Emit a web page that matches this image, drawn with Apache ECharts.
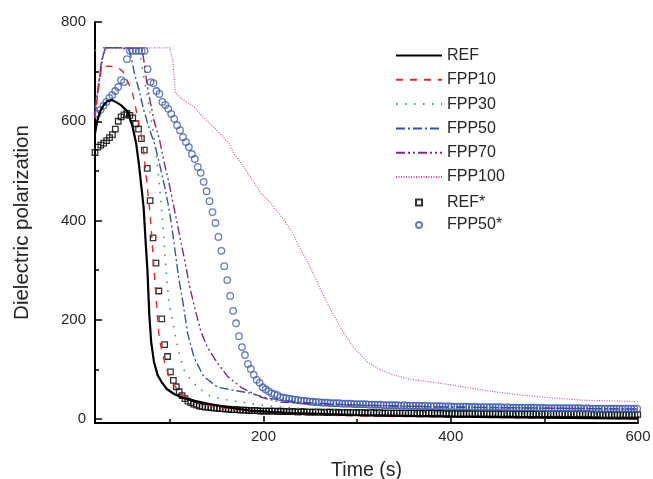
<!DOCTYPE html>
<html>
<head>
<meta charset="utf-8">
<title>Dielectric polarization</title>
<script src="https://cdn.jsdelivr.net/npm/echarts@6.0.0/dist/echarts.min.js"></script>
<style>
html, body { margin: 0; padding: 0; background: #fff; }
#chart { width: 653px; height: 479px; }
</style>
</head>
<body>
<div id="chart"></div>
<script>
// simulated curves: time (s) and dielectric polarization
var refTime = [20, 22, 25, 29, 33, 38, 43, 48, 55, 60, 64, 67, 70, 72, 74, 76, 78, 80, 83, 87, 91, 97, 105, 115, 125, 140, 160, 186, 230, 300, 400, 500, 600];
var refValues = [575, 598, 618, 632, 640, 643, 638, 632, 619, 590, 555, 512, 460, 425, 360, 300, 210, 155, 115, 88, 75, 60, 50, 42, 37, 31, 24, 17, 12, 8, 5, 3, 1];

var fpp10Time = [20, 22, 24, 26, 28, 35, 44, 50, 55, 60, 64, 68, 71, 73, 76, 79, 81.5, 83, 85, 88, 90, 94, 98, 104, 110, 120, 135, 150, 175, 200, 250, 300, 400, 500, 600];
var fpp10Values = [605, 640, 668, 700, 710, 711, 709, 700, 680, 658, 622, 585, 555, 520, 465, 410, 345, 305, 250, 175, 150, 117, 92, 70, 54, 40, 30, 24, 18, 14, 9, 6, 4, 2, 1];

var fpp30Time = [20, 24, 30, 40, 50, 60, 66, 69, 72, 76, 80, 84, 88, 91, 93, 95, 97, 99, 103, 106, 110, 115, 122, 131, 144, 162, 183, 204, 240, 300, 400, 500, 600];
var fpp30Values = [742, 748, 748, 748, 748, 748, 746, 725, 690, 650, 605, 556, 488, 425, 380, 325, 275, 234, 196, 166, 132, 99, 79, 62, 45, 38, 32, 26, 21, 17, 13, 11, 9];

var fpp50Time = [20, 23, 26, 29, 31, 45, 56, 59, 62, 67, 72, 78, 84, 89, 94, 99, 102, 106, 109, 114, 119, 126, 136, 151, 168, 186, 205, 237, 300, 400, 500, 600];
var fpp50Values = [625, 660, 700, 735, 748, 748, 745, 727, 697, 663, 623, 585, 552, 513, 472, 424, 388, 332, 289, 234, 172, 123, 86, 64, 58, 52, 42, 34, 28, 24, 22, 20];

var fpp70Time = [20, 22, 24, 27, 31, 50, 70, 72, 75, 78, 83, 89, 94, 99, 104, 108, 112, 116, 121, 126, 133, 140, 150, 162, 176, 197, 218, 250, 300, 400, 500, 600];
var fpp70Values = [612, 640, 677, 723, 748, 748, 746, 725, 683, 649, 602, 562, 516, 476, 430, 392, 355, 318, 268, 228, 177, 145, 115, 85, 64, 44, 34, 31, 28, 24, 22, 20];

var fpp100Time = [20, 24, 28, 33, 60, 100, 103, 106, 114, 126, 136, 147, 157, 163, 168, 176, 183, 190, 197, 205, 211, 218, 229, 240, 250, 261, 272, 282, 296, 311, 325, 339, 354, 380, 400, 435, 471, 506, 541, 600];
var fpp100Values = [629, 683, 729, 748, 748, 748, 723, 657, 643, 629, 607, 588, 568, 556, 536, 516, 496, 476, 455, 441, 427, 411, 381, 341, 306, 260, 220, 185, 145, 115, 99, 89, 81, 74, 69, 58, 49, 43, 38, 35];

// measured points, one sample every step seconds
var refStarStart = 20, refStarStep = 3.1;
var refStarValues = [
  537, 548, 552, 556, 561, 567, 573, 584, 600, 609,
  613, 616, 612, 607, 595, 584, 565, 542, 505, 440,
  365, 314, 258, 202, 150, 126, 95, 78, 65, 55,
  47, 41, 36, 33, 30, 28, 26,
  25, 24, 24, 23, 22, 22, 21, 21, 20, 20,
  19, 19, 19, 18, 18, 18, 17, 17, 17, 17,
  16, 16, 16, 16, 16, 16, 15, 16, 15, 15,
  15, 15, 15, 14, 15, 15, 14, 14, 14, 14,
  14, 14, 13, 14, 14, 13, 14, 13, 13, 13,
  13, 13, 13, 13, 13, 13, 13, 12, 13, 13,
  12, 13, 12, 12, 12, 12, 12, 12, 12, 12,
  12, 12, 12, 12, 12, 12, 11, 12, 12, 12,
  12, 11, 12, 11, 11, 11, 11, 11, 11, 11,
  11, 11, 11, 11, 11, 11, 11, 11, 11, 11,
  11, 11, 11, 10, 11, 11, 11, 10, 11, 10,
  10, 10, 10, 10, 10, 10, 10, 10, 10, 10,
  10, 10, 10, 10, 10, 10, 10, 10, 10, 10,
  10, 10, 10, 10, 10, 9, 10, 9, 9, 9,
  9, 9, 9, 9, 9, 9, 9, 9, 9, 9, 9
];

var fpp50StarStart = 19.5, fpp50StarStep = 3.15;
var fpp50StarValues = [
  607, 615, 623, 631, 639, 647, 653, 661, 669, 683,
  679, 725, 742, 742, 742, 742, 742, 742, 705, 679,
  677, 661, 655, 639, 633, 625, 615, 605, 592, 582,
  568, 558, 548, 534, 524, 508, 496, 478, 459, 439,
  417, 395, 367, 339, 308, 280, 248, 218, 193, 167,
  145, 129, 111, 101, 89, 79, 73, 64, 60, 56,
  52, 50, 48, 44,
  43, 42, 41, 40, 39, 38, 37, 37, 36, 35,
  35, 34, 34, 33, 33, 33, 32, 32, 32, 32,
  31, 31, 31, 31, 30, 30, 30, 30, 30, 29,
  29, 29, 29, 29, 28, 28, 28, 28, 28, 28,
  27, 28, 27, 27, 27, 27, 27, 26, 27, 26,
  26, 26, 26, 26, 26, 25, 26, 25, 25, 25,
  25, 25, 25, 25, 24, 25, 24, 24, 24, 24,
  24, 24, 24, 24, 24, 23, 24, 23, 23, 23,
  23, 23, 23, 23, 23, 23, 23, 22, 23, 22,
  22, 22, 22, 22, 22, 22, 22, 22, 22, 22,
  22, 22, 21, 22, 21, 21, 21, 21, 21, 21,
  21, 21, 21, 21, 21, 21, 21, 21, 21, 21, 21
];

var xTickLabels = [200, 400, 600];
var yTickLabels = [0, 200, 400, 600, 800];

var font = 'Liberation Sans, Arial, Helvetica, sans-serif';
var ink = '#262626';

function pairs(t, v) {
  return t.map(function (x, i) { return [x, v[i]]; });
}
function sampled(start, step, v) {
  return v.map(function (y, i) { return [Math.round((start + i * step) * 100) / 100, y]; });
}
function curve(name, t, v, color, width, dash) {
  return {
    name: name, type: 'line', data: pairs(t, v),
    symbol: 'none', showSymbol: false, silent: true,
    lineStyle: { color: color, width: width, type: dash },
    itemStyle: { color: color }
  };
}
function points(name, data, symbol, size, color) {
  return {
    name: name, type: 'scatter', data: data, silent: true,
    symbol: symbol, symbolSize: size,
    itemStyle: { color: 'rgba(255,255,255,0)', borderColor: color, borderWidth: 1.3 }
  };
}

var chart = echarts.init(document.getElementById('chart'), null, { renderer: 'canvas' });
chart.setOption({
  animation: false,
  backgroundColor: '#ffffff',
  grid: { left: 95, right: 15, top: 22, bottom: 56, outerBoundsMode: 'none', containLabel: false },
  legend: [
    {
      data: ['REF', 'FPP10', 'FPP30', 'FPP50', 'FPP70', 'FPP100'],
      orient: 'vertical', left: 395, top: 47.5, padding: 0,
      itemWidth: 46, itemHeight: 14, itemGap: 8.3,
      itemStyle: { opacity: 0 },
      selectedMode: false,
      textStyle: { fontSize: 16, color: ink, fontFamily: font, lineHeight: 14 }
    },
    {
      data: [{ name: 'REF*', icon: 'rect' }, { name: 'FPP50*', icon: 'circle' }],
      orient: 'vertical', left: 415, top: 194.5, padding: 0,
      itemWidth: 6, itemHeight: 6, itemGap: 6.4,
      selectedMode: false,
      textStyle: { fontSize: 16, color: ink, fontFamily: font, lineHeight: 14, padding: [0, 0, 0, 20] }
    }
  ],
  xAxis: {
    type: 'value', min: 20, max: 600, splitNumber: 3,
    name: 'Time (s)', nameLocation: 'middle', nameGap: 38, nameMoveOverlap: false,
    nameTextStyle: { fontSize: 19.5, color: ink, fontFamily: font },
    axisLine: { show: true, onZero: false, lineStyle: { color: '#000', width: 2 } },
    axisTick: { show: true, inside: true, length: 7, lineStyle: { color: '#000', width: 1.5 } },
    minorTick: { show: true, splitNumber: 2, length: 4, lineStyle: { color: '#000', width: 1.5 } },
    splitLine: { show: false },
    axisLabel: {
      margin: 6, fontSize: 15, color: ink, fontFamily: font,
      showMinLabel: false,
      formatter: function (v) { return xTickLabels.indexOf(v) >= 0 ? String(v) : ''; }
    }
  },
  yAxis: {
    type: 'value', min: -8, max: 800, splitNumber: 4,
    name: 'Dielectric polarization', nameLocation: 'middle', nameGap: 62, nameMoveOverlap: false,
    nameTextStyle: { fontSize: 20.5, color: ink, fontFamily: font },
    axisLine: { show: true, onZero: false, lineStyle: { color: '#000', width: 2 } },
    axisTick: { show: true, inside: true, length: 7, lineStyle: { color: '#000', width: 1.5 } },
    minorTick: { show: true, splitNumber: 2, length: 4, lineStyle: { color: '#000', width: 1.5 } },
    splitLine: { show: false },
    axisLabel: {
      margin: 9, fontSize: 15, color: ink, fontFamily: font,
      showMinLabel: false,
      formatter: function (v) { return yTickLabels.indexOf(v) >= 0 ? String(v) : ''; }
    }
  },
  series: [
    curve('FPP100', fpp100Time, fpp100Values, '#cc4fb0', 1.2, [1, 1.5]),
    curve('FPP70', fpp70Time, fpp70Values, '#7b2a88', 1.4, [9, 3, 2, 3, 2, 3]),
    curve('FPP50', fpp50Time, fpp50Values, '#3355a5', 1.4, [9, 3, 2, 3]),
    curve('FPP30', fpp30Time, fpp30Values, '#2c9b6d', 1.6, [1.5, 7.5]),
    curve('FPP10', fpp10Time, fpp10Values, '#e8262a', 1.4, [7, 7]),
    curve('REF', refTime, refValues, '#000000', 2.2, 'solid'),
    points('REF*', sampled(refStarStart, refStarStep, refStarValues), 'rect', 5.5, '#000000'),
    points('FPP50*', sampled(fpp50StarStart, fpp50StarStep, fpp50StarValues), 'circle', 6.5, '#3d5cb0')
  ]
});
</script>
</body>
</html>
